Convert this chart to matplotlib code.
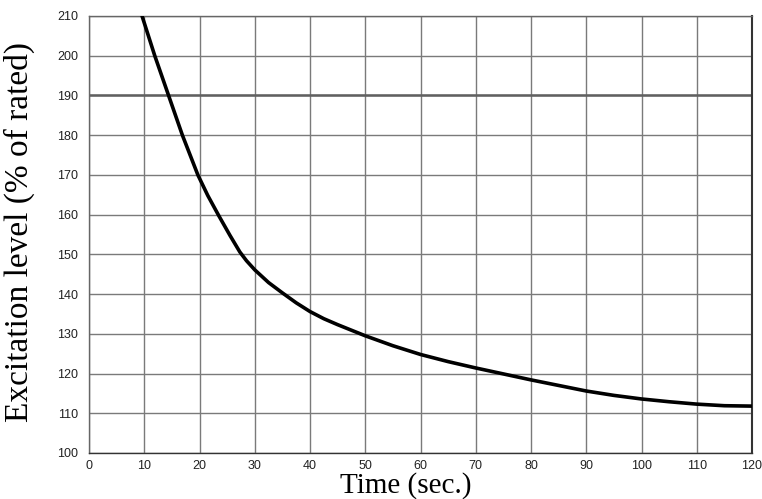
import matplotlib
matplotlib.use("Agg")
import matplotlib.pyplot as plt

time_s = [9.6, 11.9, 14.4, 16.9, 19.7, 21.5, 23.5, 25.5, 27.3, 28.5, 30, 32.5,
          35, 37.5, 40, 42.5, 45, 50, 55, 60, 65, 70, 75, 80, 85, 90, 95,
          100, 105, 110, 115, 120]
excitation = [210, 200, 190, 180, 170, 164.8, 159.7, 154.8, 150.6, 148.4, 146.1, 142.9,
              140.3, 137.8, 135.6, 133.8, 132.3, 129.5, 127.0, 124.8, 123.0, 121.4,
              119.9, 118.4, 117.0, 115.6, 114.5, 113.6, 112.9, 112.3, 111.9, 111.8]
x_ticks = list(range(0, 121, 10))
y_ticks = list(range(100, 211, 10))
limit_level = 190

fig = plt.figure(figsize=(7.62, 4.99), dpi=100)
ax = fig.add_axes([0.1168, 0.0922, 0.8701, 0.8758])
ax.set_xlim(0, 120)
ax.set_ylim(100, 210)
ax.set_xticks(x_ticks)
ax.set_yticks(y_ticks)
ax.grid(True, color="#7a7a7a", linewidth=1.0)
ax.set_axisbelow(True)
ax.axhline(limit_level, color="#606060", linewidth=1.8, zorder=1)
ax.plot(time_s, excitation, color="black", linewidth=2.6, zorder=3,
        solid_joinstyle="round", solid_capstyle="round")

for s in ax.spines.values():
    s.set_color("#666666")
    s.set_linewidth(1.0)
ax.spines["right"].set_color("#333333")
ax.spines["right"].set_linewidth(1.5)
ax.spines["bottom"].set_color("#333333")

ax.tick_params(length=0, labelsize=9, labelcolor="#222222")
ax.tick_params(axis="x", pad=5)
ax.tick_params(axis="y", pad=8)
for lab in ax.get_xticklabels() + ax.get_yticklabels():
    lab.set_family("Liberation Sans")

ax.set_xlabel("Time (sec.)", family="Liberation Serif", fontsize=21,
              va="baseline", ha="center")
ax.xaxis.set_label_coords(0.477, -0.0915)
ax.set_ylabel("Excitation level (% of rated)", family="Liberation Serif",
              fontsize=24, va="center", ha="center")
ax.yaxis.set_label_coords(-0.105, 0.505)

fig.savefig("out.png", dpi=100)
